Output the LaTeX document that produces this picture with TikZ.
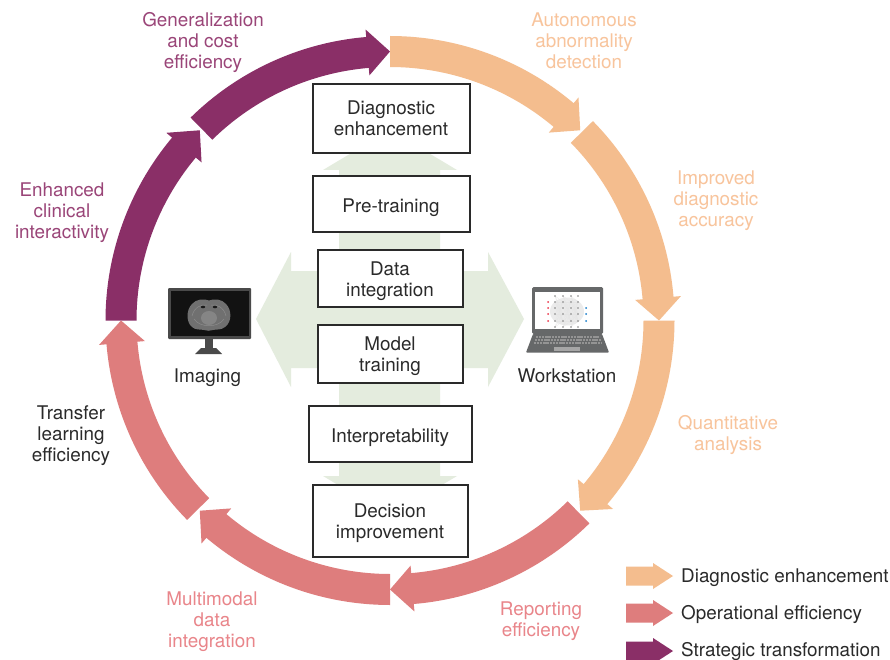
\documentclass[tikz,border=0pt]{standalone}
\usepackage{fontspec}
\setmainfont{TeX Gyre Heros}
\definecolor{cPurple}{HTML}{8A2F67}
\definecolor{cOrange}{HTML}{F4BD8E}
\definecolor{cRed}{HTML}{DE7D7D}
\definecolor{tPurple}{HTML}{9A4578}
\definecolor{tOrange}{HTML}{F8C49C}
\definecolor{tRed}{HTML}{E9858A}
\definecolor{cGreen}{HTML}{E4ECDE}
\definecolor{cText}{HTML}{2A2A2A}
\definecolor{cFrame}{HTML}{4A4A4A}
\definecolor{cLaptop}{HTML}{666869}
\tikzset{
  lab/.style={font=\fontsize{18.85}{21}\selectfont,align=center,inner sep=0pt,text=cText,yshift=-2.8pt,
    execute at begin node=\strut,execute at end node=\strut},
  stage/.style={draw=cText,line width=1.2pt,fill=white,inner sep=0pt},
}
% colour, tail angle, head-base angle, tip angle
\newcommand{\ringarrow}[4]{%
  \fill[#1] plot[domain=#2:#3,samples=40] ({390+284.5*cos(\x)},{320.5+284.5*sin(\x)})
    -- ({390+292*cos(#3)},{320.5+292*sin(#3)})
    -- ({390+269*cos(#4)},{320.5+269*sin(#4)})
    -- ({390+246*cos(#3)},{320.5+246*sin(#3)})
    -- ({390+253.5*cos(#3)},{320.5+253.5*sin(#3)})
    -- plot[domain=#3:#2,samples=40] ({390+253.5*cos(\x)},{320.5+253.5*sin(\x)}) -- cycle;
}
% colour, centre y
\newcommand{\legendarrow}[2]{%
  \fill[#1] (626,#2-9.5) -- (653,#2-9.5) -- (653,#2-13) -- (673,#2) -- (653,#2+13) -- (653,#2+9.5) -- (626,#2+9.5) -- cycle;
}
\begin{document}
\begin{tikzpicture}[x=1pt,y=-1pt]
\useasboundingbox (0,0) rectangle (890,660);
\clip (0,0) rectangle (890,660);
\fill[white] (0,0) rectangle (890,660);

% green cross of arrows
\fill[cGreen] (339,170) -- (323,170) -- (390,130) -- (457,170) -- (440,170) -- (440,476) -- (457,476) -- (390,516) -- (323,476) -- (339,476) -- cycle;
\fill[cGreen] (291,271) -- (291,252) -- (256,319) -- (291,387) -- (291,368) -- (488,368) -- (488,387) -- (524,319) -- (488,252) -- (488,271) -- cycle;

% ring
\ringarrow{cPurple}{180}{220}{225}
\ringarrow{cPurple}{225.5}{265.2}{270}
\ringarrow{cOrange}{270}{310.2}{315}
\ringarrow{cOrange}{315.5}{355.2}{360}
\ringarrow{cOrange}{360}{400.2}{405}
\ringarrow{cRed}{405.5}{445.2}{450}
\ringarrow{cRed}{450}{490.2}{495}
\ringarrow{cRed}{495.5}{535.2}{540}

% stage boxes
\node[stage,minimum width=157pt,minimum height=69pt] (diag) at (391.5,118.5) {};
\node[stage,minimum width=157pt,minimum height=56pt] (pre) at (391.5,204) {};
\node[stage,minimum width=145pt,minimum height=57pt] (data) at (390.5,278.5) {};
\node[stage,minimum width=145pt,minimum height=58pt] (model) at (390.5,354) {};
\node[stage,minimum width=163pt,minimum height=56pt] (interp) at (390.5,434) {};
\node[stage,minimum width=155pt,minimum height=72pt] (dec) at (390.5,521) {};
\node[lab] (diagt) at (391,118.5) {Diagnostic\\enhancement};
\node[lab] (pret) at (391,205) {Pre-training};
\node[lab] (datat) at (390,279) {Data\\integration};
\node[lab] (modelt) at (390,354.5) {Model\\training};
\node[lab] (interpt) at (390,435) {Interpretability};
\node[lab] (dect) at (390,521.5) {Decision\\improvement};

% ring labels
\node[lab,text=tPurple] (l1) at (203,41) {Generalization\\and cost\\efficiency};
\node[lab,text=tOrange] (l2) at (584,41) {Autonomous\\abnormality\\detection};
\node[lab,text=tOrange] (l3) at (716,199) {Improved\\diagnostic\\accuracy};
\node[lab,text=tOrange] (l4) at (728,433.5) {Quantitative\\analysis};
\node[lab,text=tRed] (l5) at (541,619) {Reporting\\efficiency};
\node[lab,text=tRed] (l6) at (212,619.5) {Multimodal\\data\\integration};
\node[lab] (l7) at (71,434) {Transfer\\learning\\efficiency};
\node[lab,text=tPurple] (l8) at (62,211) {Enhanced\\clinical\\interactivity};

% monitor
\fill[cFrame,rounded corners=1pt] (168,288) rectangle (251,339);
\fill[black!93] (170.5,290.5) rectangle (248.5,336);
\fill[cFrame] (205,339) rectangle (213,349);
\fill[cFrame] (201,348) -- (216,348) -- (222,354) -- (195,354) -- cycle;
\fill[black!56] (209,300.5) .. controls (214,298.5) and (222,299) .. (226,304)
  .. controls (232,310) and (232,322) .. (225,327)
  .. controls (221,330.5) and (216,329) .. (213,330)
  .. controls (210,331) and (207,331) .. (204,330)
  .. controls (200,329) and (196,330.5) .. (192,327)
  .. controls (186,322) and (186,310) .. (192,304)
  .. controls (196,299) and (204,298.5) .. (209,300.5) -- cycle;
\draw[black!45,line width=.5pt] (192,316) .. controls (194,307) and (202,304) .. (207,305);
\draw[black!45,line width=.5pt] (226,316) .. controls (224,307) and (216,304) .. (211,305);
\draw[black!45,line width=.5pt] (194,319) .. controls (200,328) and (218,328) .. (224,319);
\fill[black!90] (203,307) ellipse (2.2pt and 1.3pt);
\fill[black!90] (215,307) ellipse (2.2pt and 1.3pt);
\fill[black!48] (209,318) ellipse (8pt and 7pt);

% laptop
\fill[cLaptop,rounded corners=1.5pt] (532,287) rectangle (603,334);
\fill[white] (535,292) rectangle (600,329);
\fill[black!8] (567,311.5) ellipse (17pt and 14pt);
\foreach \y in {296,302,308,314,321,327}{
  \foreach \yy in {302,314,321}{
    \foreach \c/\d in {555/563,563/571,571/578}{
      \draw[black!10,line width=.2pt] (\c,\y) -- (\d,\yy);
    }
  }
}
\foreach \c in {555,563,571,578}{
  \foreach \y in {296,302,308,314,321,327}{
    \fill[black!50] (\c,\y) circle (.9pt);
  }
}
\foreach \y in {302,308,314,321}{ \fill[red!60!purple!80] (548,\y) circle (1pt); }
\foreach \y in {308,314,321}{ \fill[cyan!60!blue] (586,\y) circle (1pt); }
\fill[cLaptop,rounded corners=.8pt] (533,334) -- (602,334) -- (609,352.5) -- (526,352.5) -- cycle;
\foreach \r/\xa/\xb in {337/535.5/599.5,340/534.5/600.5,343/533.5/601.5}{
  \draw[black!42,line width=2.1pt,dash pattern=on 2.4pt off .8pt] (\xa,\r) -- (\xb,\r);
}
\fill[black!35] (554,347) rectangle (580,351);

\node[lab] (imaging) at (207.5,375) {Imaging};
\node[lab] (work) at (567,375) {Workstation};

% legend
\legendarrow{cOrange}{576}
\legendarrow{cRed}{613}
\legendarrow{cPurple}{651}
\node[lab,anchor=west] (k1) at (681,575) {Diagnostic enhancement};
\node[lab,anchor=west] (k2) at (681,612) {Operational efficiency};
\node[lab,anchor=west] (k3) at (681,649) {Strategic transformation};
\end{tikzpicture}
\end{document}
